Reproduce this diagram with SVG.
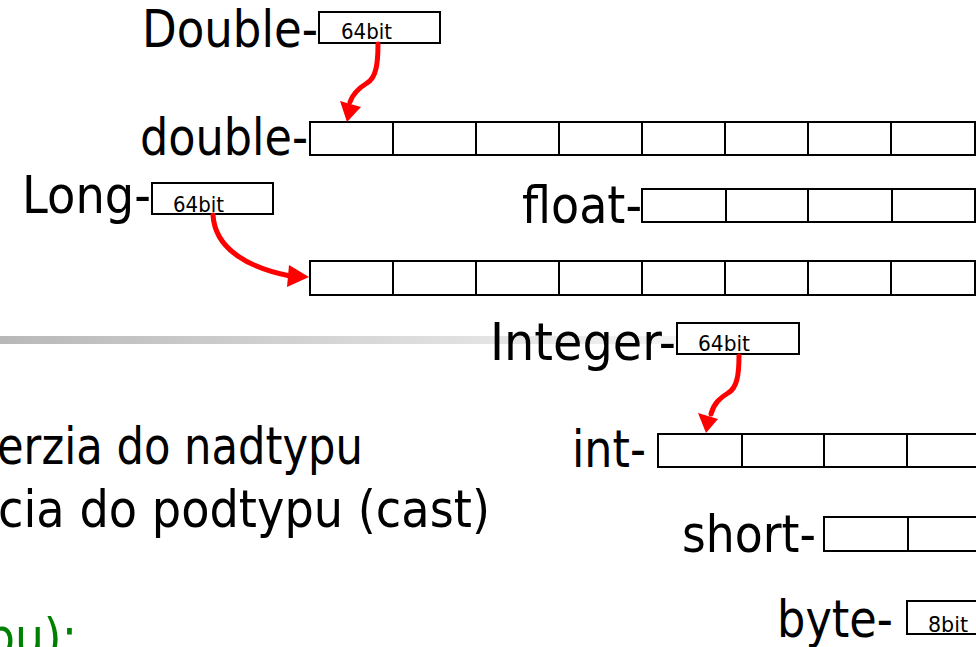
<svg xmlns="http://www.w3.org/2000/svg" width="976" height="647" viewBox="0 0 976 647">
<defs>
<linearGradient id="fade" x1="0" y1="0" x2="1" y2="0">
<stop offset="0" stop-color="#b8b8b8"/>
<stop offset="1" stop-color="#ffffff"/>
</linearGradient>
<style>
.lbl{font-family:"DejaVu Sans","Liberation Sans",sans-serif;font-size:51px;fill:#000}
.sm{font-family:"DejaVu Sans","Liberation Sans",sans-serif;font-size:21px;fill:#000}
.box{fill:#fff;stroke:#000;stroke-width:2}
.div{stroke:#000;stroke-width:2}
.arr{fill:none;stroke:#ff0000;stroke-width:5;stroke-linecap:round}
.head{fill:#ff0000}
.grn{font-family:"DejaVu Sans","Liberation Sans",sans-serif;font-size:51px;fill:#008000}
</style>
</defs>
<rect width="976" height="647" fill="#fff"/>
<rect x="0" y="336" width="810" height="8" fill="url(#fade)"/>

<g id="text-left">
<text class="lbl" x="-3" y="464" textLength="366" lengthAdjust="spacingAndGlyphs">erzia do nadtypu</text>
<text class="lbl" x="-2" y="527" textLength="492" lengthAdjust="spacingAndGlyphs">cia do podtypu (cast)</text>
<text class="grn" x="-14" y="655" textLength="91" lengthAdjust="spacingAndGlyphs">pu):</text>
</g>

<g id="Double">
<text class="lbl" x="142" y="47" textLength="176" lengthAdjust="spacingAndGlyphs">Double-</text>
<rect class="box" x="319" y="12" width="121" height="31"/>
<text class="sm" x="341" y="39" textLength="51" lengthAdjust="spacingAndGlyphs">64bit</text>
</g>

<g id="double">
<text class="lbl" x="140" y="155" textLength="168" lengthAdjust="spacingAndGlyphs">double-</text>
<rect class="box" x="310" y="122" width="665" height="33"/>
<path class="div" d="M393,122V155M476,122V155M559,122V155M642,122V155M725,122V155M808,122V155M891,122V155"/>
</g>

<g id="Long">
<text class="lbl" x="22" y="213" textLength="129" lengthAdjust="spacingAndGlyphs">Long-</text>
<rect class="box" x="152" y="183" width="121" height="31"/>
<text class="sm" x="173" y="212" textLength="51" lengthAdjust="spacingAndGlyphs">64bit</text>
</g>

<g id="float">
<text class="lbl" x="522" y="223" textLength="120" lengthAdjust="spacingAndGlyphs">float-</text>
<rect class="box" x="642" y="189" width="333" height="33"/>
<path class="div" d="M726,189V222M808,189V222M892,189V222"/>
</g>

<g id="long">
<rect class="box" x="310" y="261" width="665" height="34"/>
<path class="div" d="M393,261V295M476,261V295M559,261V295M642,261V295M725,261V295M808,261V295M891,261V295"/>
</g>

<g id="Integer">
<text class="lbl" x="490" y="360" textLength="186" lengthAdjust="spacingAndGlyphs">Integer-</text>
<rect class="box" x="677" y="323" width="122" height="31"/>
<text class="sm" x="698" y="351" textLength="52" lengthAdjust="spacingAndGlyphs">64bit</text>
</g>

<g id="int">
<text class="lbl" x="572" y="467" textLength="74" lengthAdjust="spacingAndGlyphs">int-</text>
<rect class="box" x="658" y="434" width="330" height="33"/>
<path class="div" d="M742,434V467M824,434V467M907,434V467"/>
</g>

<g id="short">
<text class="lbl" x="682" y="552" textLength="134" lengthAdjust="spacingAndGlyphs">short-</text>
<rect class="box" x="824" y="517" width="170" height="34"/>
<path class="div" d="M908,517V551"/>
</g>

<g id="byte">
<text class="lbl" x="777" y="637" textLength="116" lengthAdjust="spacingAndGlyphs">byte-</text>
<rect class="box" x="907" y="601" width="90" height="33"/>
<text class="sm" x="928" y="632" textLength="40" lengthAdjust="spacingAndGlyphs">8bit</text>
</g>

<g id="connectors">
<path class="arr" d="M378,44 C378,64 376,78 367,83 C359,88 353,93 350,102"/>
<polygon class="head" points="340,101 361,107 347,122"/>
<path class="arr" d="M213,215 C215,250 250,268 290,276"/>
<polygon class="head" points="289,265 309,277 287,287"/>
<path class="arr" d="M739,356 C739,375 737,388 728,393 C720,398 714,403 711,414"/>
<polygon class="head" points="698,413 718,419 706,433"/>
</g>
</svg>
